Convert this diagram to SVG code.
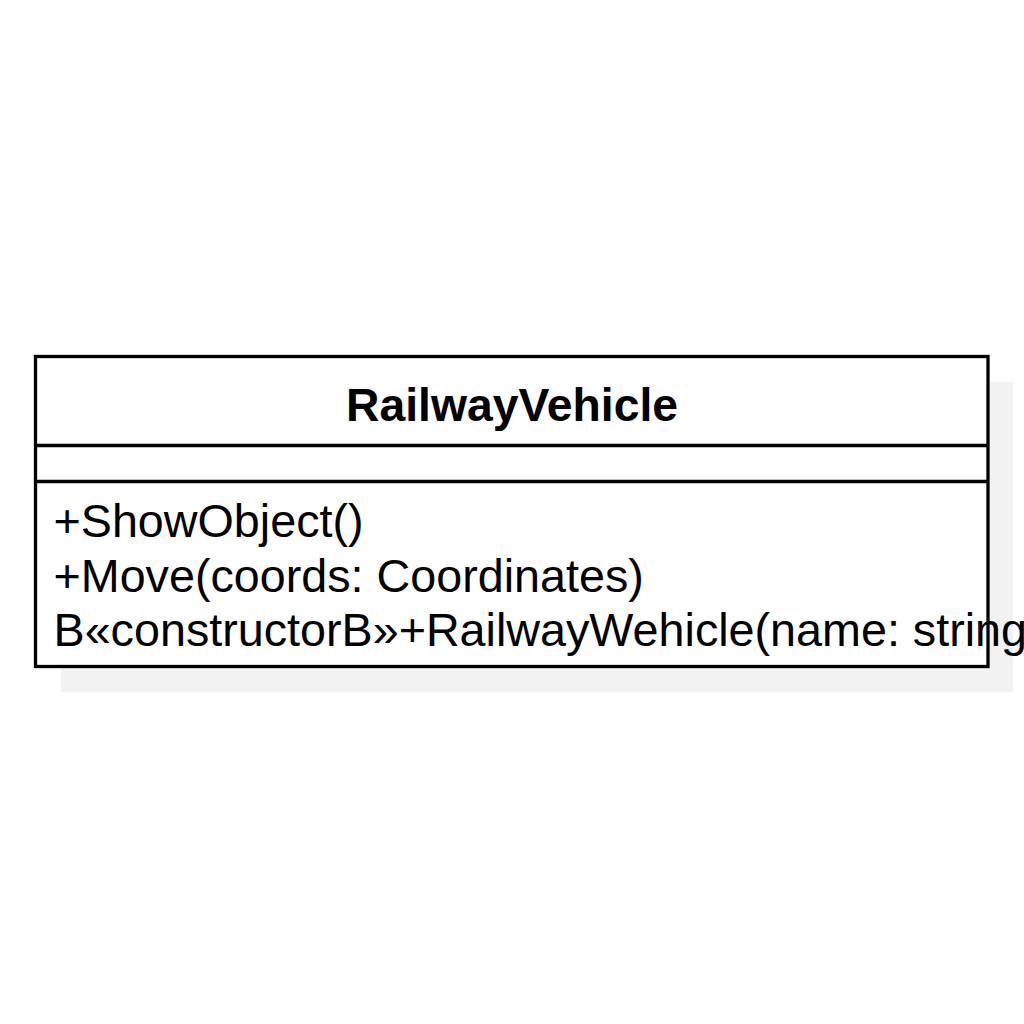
<svg xmlns="http://www.w3.org/2000/svg" width="1024" height="1024" viewBox="0 0 1024 1024">
  <style>
    .box { fill: #ffffff; stroke: #000000; stroke-width: 3.3; }
    .sep { stroke: #000000; stroke-width: 3.3; fill: none; }
    .shadow { fill: #f2f2f2; stroke: none; }
    .title { font-family: "Liberation Sans", Arial, sans-serif; font-size: 46.3px; font-weight: bold; fill: #000000; }
    .member { font-family: "Liberation Sans", Arial, sans-serif; font-size: 46.7px; fill: #000000; }
  </style>
  <rect width="1024" height="1024" fill="#ffffff"/>
  <g id="RailwayVehicle">
    <rect class="shadow" x="61" y="382" width="952" height="310"/>
    <rect class="box" x="35.5" y="356.5" width="952.5" height="310"/>
    <line class="sep" x1="35.5" y1="445.5" x2="988" y2="445.5"/>
    <line class="sep" x1="35.5" y1="481.5" x2="988" y2="481.5"/>
    <text class="title" x="512" y="421" text-anchor="middle">RailwayVehicle</text>
    <text class="member" x="53.5" y="537">+ShowObject()</text>
    <text class="member" x="53.5" y="592">+Move(coords: Coordinates)</text>
    <text class="member" x="53.5" y="646">B«constructorB»+RailwayWehicle(name: string)</text>
  </g>
  <g id="connectors"></g>
</svg>
